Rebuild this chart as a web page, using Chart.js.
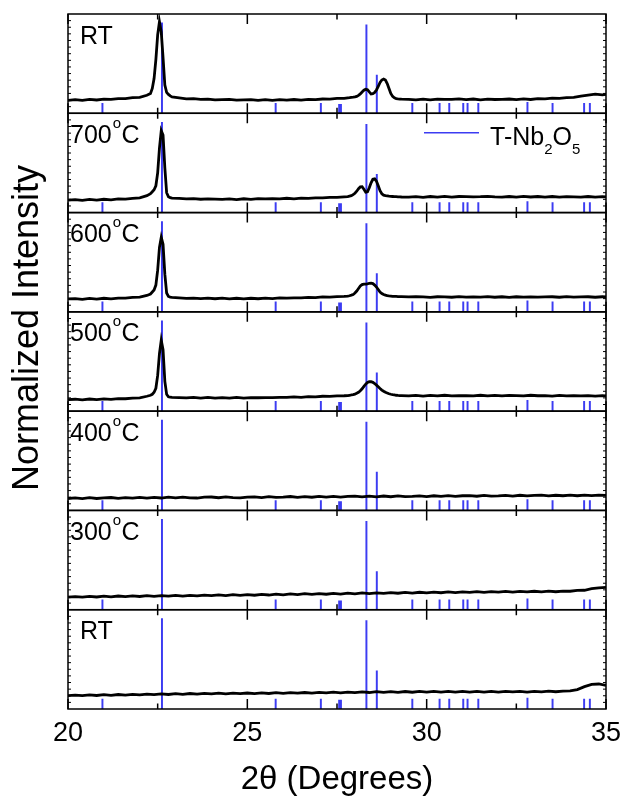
<!DOCTYPE html>
<html>
<head>
<meta charset="utf-8">
<script src="https://cdn.jsdelivr.net/npm/chart.js@4.4.1/dist/chart.umd.min.js"></script>
<style>
  html, body { margin: 0; padding: 0; background: #fff; }
  #wrap { width: 624px; height: 802px; position: relative; }
</style>
</head>
<body>
<div id="wrap"><canvas id="xrd" width="624" height="802"></canvas></div>
<script>
// ─── DATA ─────────────────────────────────────────────────────────────────────
// panel labels, top to bottom
const PANEL_LABELS = ['RT', '700°C', '600°C', '500°C', '400°C', '300°C', 'RT'];

// 2θ sample positions (dense around the two reflections)
const X_PEAK = [
  20.0, 20.2, 20.4, 20.6, 20.8, 21.0, 21.2, 21.4, 21.6, 21.8, 22.0, 22.2,
  22.30, 22.35, 22.40, 22.45, 22.50, 22.55, 22.60, 22.65, 22.70, 22.75, 22.80, 22.85, 22.90,
  23.1, 23.3, 23.5, 23.7, 23.9, 24.1, 24.3, 24.5, 24.7, 24.9, 25.1, 25.3, 25.5, 25.7, 25.9,
  26.1, 26.3, 26.5, 26.7, 26.9, 27.1, 27.3, 27.5, 27.7,
  27.80, 27.85, 27.90, 27.95, 28.00, 28.05, 28.10, 28.15, 28.20, 28.25, 28.30, 28.35, 28.40,
  28.45, 28.50, 28.55, 28.60, 28.65, 28.70, 28.75, 28.80, 28.85, 28.90, 28.95, 29.00, 29.05,
  29.10, 29.15, 29.20, 29.25, 29.30,
  29.5, 29.7, 29.9, 30.1, 30.3, 30.5, 30.7, 30.9, 31.1, 31.3, 31.5, 31.7, 31.9, 32.1, 32.3,
  32.5, 32.7, 32.9, 33.1, 33.3, 33.5, 33.7, 33.9, 34.1, 34.3, 34.5, 34.7, 34.9, 35.0
];

// 2θ sample positions for the amorphous patterns
const X_FLAT = [
  20.0, 20.2, 20.4, 20.6, 20.8, 21.0, 21.2, 21.4, 21.6, 21.8,
  22.0, 22.2, 22.4, 22.6, 22.8, 23.0, 23.2, 23.4, 23.6, 23.8,
  24.0, 24.2, 24.4, 24.6, 24.8, 25.0, 25.2, 25.4, 25.6, 25.8,
  26.0, 26.2, 26.4, 26.6, 26.8, 27.0, 27.2, 27.4, 27.6, 27.8,
  28.0, 28.2, 28.4, 28.6, 28.8, 29.0, 29.2, 29.4, 29.6, 29.8,
  30.0, 30.2, 30.4, 30.6, 30.8, 31.0, 31.2, 31.4, 31.6, 31.8,
  32.0, 32.2, 32.4, 32.6, 32.8, 33.0, 33.2, 33.4, 33.6, 33.8,
  34.0, 34.2, 34.4, 34.6, 34.8, 35.0
];

// normalized intensity (each panel spans 0..1)
const RT_TOP = [
  0.130, 0.137, 0.130, 0.140, 0.134, 0.142, 0.140, 0.147, 0.148, 0.157, 0.160, 0.182,
  0.200, 0.250, 0.350, 0.540, 0.790, 0.922, 0.820, 0.560, 0.285, 0.210, 0.190, 0.175, 0.165,
  0.155, 0.146, 0.147, 0.140, 0.142, 0.136, 0.138, 0.141, 0.133, 0.135, 0.138, 0.130, 0.137, 0.131, 0.138,
  0.132, 0.139, 0.133, 0.140, 0.138, 0.144, 0.143, 0.150, 0.150,
  0.155, 0.157, 0.160, 0.162, 0.165, 0.170, 0.180, 0.195, 0.215, 0.232, 0.242, 0.238, 0.215,
  0.195, 0.198, 0.210, 0.235, 0.270, 0.310, 0.335, 0.345, 0.335, 0.300, 0.250, 0.200, 0.170,
  0.155, 0.148, 0.145, 0.143, 0.142,
  0.141, 0.136, 0.142, 0.135, 0.142, 0.140, 0.141, 0.145, 0.138, 0.144, 0.136, 0.142, 0.139, 0.141, 0.144,
  0.138, 0.145, 0.139, 0.147, 0.146, 0.152, 0.150, 0.157, 0.160, 0.174, 0.183, 0.192, 0.186, 0.190
];

const T700 = [
  0.125, 0.130, 0.122, 0.132, 0.125, 0.134, 0.128, 0.137, 0.136, 0.144, 0.148, 0.170,
  0.190, 0.210, 0.230, 0.270, 0.400, 0.650, 0.825, 0.780, 0.450, 0.200, 0.160, 0.150, 0.145,
  0.142, 0.138, 0.140, 0.134, 0.137, 0.136, 0.132, 0.138, 0.131, 0.139, 0.133, 0.140, 0.138, 0.139, 0.138,
  0.144, 0.138, 0.145, 0.143, 0.149, 0.148, 0.154, 0.153, 0.158,
  0.160, 0.165, 0.170, 0.180, 0.195, 0.215, 0.240, 0.258, 0.260, 0.235, 0.205, 0.210, 0.250,
  0.300, 0.335, 0.340, 0.315, 0.270, 0.220, 0.190, 0.175, 0.170, 0.168, 0.165, 0.163, 0.162,
  0.160, 0.160, 0.158, 0.158, 0.157,
  0.155, 0.160, 0.153, 0.162, 0.155, 0.164, 0.156, 0.162, 0.161, 0.158, 0.160, 0.164, 0.158, 0.155, 0.162,
  0.156, 0.163, 0.157, 0.162, 0.156, 0.162, 0.155, 0.161, 0.158, 0.156, 0.162, 0.155, 0.161, 0.158
];

const T600 = [
  0.130, 0.134, 0.126, 0.136, 0.128, 0.137, 0.131, 0.139, 0.138, 0.145, 0.148, 0.165,
  0.180, 0.200, 0.220, 0.270, 0.420, 0.650, 0.750, 0.680, 0.380, 0.190, 0.155, 0.148, 0.145,
  0.140, 0.136, 0.138, 0.133, 0.139, 0.132, 0.138, 0.131, 0.137, 0.130, 0.137, 0.132, 0.139, 0.133, 0.140,
  0.138, 0.141, 0.140, 0.145, 0.143, 0.150, 0.148, 0.154, 0.155,
  0.158, 0.162, 0.168, 0.175, 0.190, 0.210, 0.235, 0.260, 0.275, 0.280, 0.280, 0.282, 0.288,
  0.290, 0.285, 0.270, 0.250, 0.225, 0.200, 0.185, 0.175, 0.168, 0.163, 0.160, 0.158, 0.156,
  0.155, 0.155, 0.154, 0.153, 0.153,
  0.150, 0.152, 0.150, 0.146, 0.152, 0.150, 0.147, 0.153, 0.148, 0.150, 0.148, 0.154, 0.147, 0.152, 0.146,
  0.152, 0.149, 0.151, 0.148, 0.150, 0.152, 0.147, 0.153, 0.148, 0.150, 0.152, 0.147, 0.152, 0.150
];

const T500 = [
  0.115, 0.120, 0.114, 0.122, 0.116, 0.124, 0.118, 0.126, 0.125, 0.132, 0.134, 0.150,
  0.160, 0.170, 0.190, 0.230, 0.360, 0.580, 0.714, 0.620, 0.300, 0.170, 0.145, 0.140, 0.138,
  0.137, 0.133, 0.138, 0.132, 0.138, 0.131, 0.137, 0.132, 0.138, 0.131, 0.137, 0.135, 0.137, 0.136, 0.139,
  0.138, 0.144, 0.139, 0.146, 0.144, 0.150, 0.148, 0.154, 0.155,
  0.157, 0.160, 0.163, 0.167, 0.172, 0.180, 0.190, 0.205, 0.225, 0.250, 0.272, 0.288, 0.296,
  0.297, 0.290, 0.278, 0.262, 0.245, 0.228, 0.212, 0.200, 0.190, 0.182, 0.175, 0.170, 0.166,
  0.163, 0.160, 0.158, 0.157, 0.156,
  0.153, 0.158, 0.152, 0.159, 0.153, 0.160, 0.154, 0.157, 0.155, 0.153, 0.160, 0.154, 0.159, 0.153, 0.159,
  0.156, 0.154, 0.160, 0.155, 0.157, 0.152, 0.158, 0.153, 0.155, 0.153, 0.156, 0.151, 0.157, 0.154
];

const T400 = [
  0.120, 0.126, 0.119, 0.128, 0.120, 0.127, 0.130, 0.121, 0.129, 0.123,
  0.131, 0.124, 0.132, 0.125, 0.133, 0.126, 0.134, 0.127, 0.125, 0.133,
  0.135, 0.128, 0.136, 0.129, 0.127, 0.135, 0.137, 0.130, 0.138, 0.131,
  0.133, 0.140, 0.132, 0.139, 0.133, 0.141, 0.134, 0.142, 0.135, 0.141,
  0.143, 0.136, 0.144, 0.137, 0.145, 0.138, 0.146, 0.139, 0.141, 0.147,
  0.140, 0.148, 0.141, 0.149, 0.142, 0.148, 0.150, 0.143, 0.151, 0.144,
  0.146, 0.152, 0.145, 0.153, 0.146, 0.152, 0.154, 0.147, 0.153, 0.148,
  0.155, 0.148, 0.154, 0.149, 0.155, 0.152
];

const T300 = [
  0.127, 0.132, 0.126, 0.135, 0.128, 0.136, 0.129, 0.138, 0.131, 0.139,
  0.133, 0.141, 0.134, 0.142, 0.136, 0.144, 0.137, 0.145, 0.139, 0.147,
  0.141, 0.149, 0.142, 0.151, 0.144, 0.152, 0.146, 0.154, 0.148, 0.157,
  0.150, 0.159, 0.152, 0.161, 0.154, 0.162, 0.156, 0.165, 0.158, 0.167,
  0.160, 0.169, 0.162, 0.170, 0.164, 0.172, 0.166, 0.174, 0.168, 0.176,
  0.170, 0.178, 0.171, 0.179, 0.173, 0.180, 0.174, 0.182, 0.175, 0.183,
  0.177, 0.184, 0.178, 0.185, 0.179, 0.186, 0.180, 0.187, 0.181, 0.188,
  0.186, 0.194, 0.196, 0.212, 0.220, 0.226
];

const RT_BOTTOM = [
  0.135, 0.140, 0.134, 0.142, 0.136, 0.144, 0.138, 0.146, 0.140, 0.148,
  0.142, 0.150, 0.144, 0.152, 0.146, 0.154, 0.148, 0.156, 0.150, 0.158,
  0.152, 0.159, 0.153, 0.160, 0.154, 0.161, 0.155, 0.162, 0.156, 0.164,
  0.158, 0.165, 0.159, 0.166, 0.160, 0.168, 0.162, 0.169, 0.163, 0.170,
  0.164, 0.172, 0.166, 0.174, 0.167, 0.175, 0.168, 0.176, 0.169, 0.177,
  0.170, 0.178, 0.171, 0.177, 0.170, 0.178, 0.171, 0.177, 0.170, 0.178,
  0.171, 0.177, 0.172, 0.178, 0.171, 0.177, 0.172, 0.179, 0.174, 0.180,
  0.182, 0.196, 0.225, 0.248, 0.252, 0.238
];

// T-Nb2O5 reference reflections (2θ) and relative stick heights
const STICK_POS    = [20.96, 22.62, 25.79, 27.05, 27.56, 27.61, 28.32, 28.61, 29.60,
                      30.36, 30.63, 31.02, 31.14, 31.44, 32.81, 33.51, 34.39, 34.55];
const STICK_HEIGHT = [0.10, 0.91, 0.10, 0.10, 0.09, 0.09, 0.89, 0.385, 0.10,
                      0.10, 0.10, 0.10, 0.10, 0.10, 0.11, 0.10, 0.10, 0.10];

const X_TICKS = [20, 22.5, 25, 27.5, 30, 32.5, 35];

const PANEL_DATA = [
  [X_PEAK, RT_TOP], [X_PEAK, T700], [X_PEAK, T600], [X_PEAK, T500],
  [X_FLAT, T400], [X_FLAT, T300], [X_FLAT, RT_BOTTOM],
];

// ─── CONFIG ───────────────────────────────────────────────────────────────────
const FONT = '"Liberation Sans", Arial, Helvetica, sans-serif';
const STICK_COLOR = '#3c3cf2';

const datasets = [];
const scales = {
  x: {
    type: 'linear', min: 20, max: 35, offset: false,
    grid: { display: false, drawTicks: false },
    border: { display: false },
    ticks: {
      stepSize: 5, padding: 8, color: '#000',
      font: { family: FONT, size: 27 },
    },
    title: {
      display: true, text: '2θ (Degrees)', color: '#000',
      font: { family: FONT, size: 33 }, padding: { top: 0, bottom: 2 },
    },
    afterFit: (s) => { s.height = 93; s.paddingLeft = 0; s.paddingRight = 0; },
  },
};

PANEL_DATA.forEach(([xs, ys], i) => {
  const id = 'p' + i;
  scales[id] = {
    type: 'linear', position: 'left', stack: 'panels', stackWeight: 1,
    weight: 10 - i, min: 0, max: 1,
    grid: { display: false, drawTicks: false },
    border: { display: false },
    ticks: { display: false },
    afterFit: (s) => { s.width = 0; },
  };
  datasets.push({
    type: 'bar', yAxisID: id, xAxisID: 'x',
    data: STICK_POS.map((p, k) => ({ x: p, y: [0, STICK_HEIGHT[k]] })),
    backgroundColor: STICK_COLOR, barThickness: 1.3, grouped: false,
    borderWidth: 0, order: 2,
  });
  datasets.push({
    type: 'line', yAxisID: id, xAxisID: 'x',
    data: xs.map((x, k) => ({ x, y: ys[k] })),
    borderColor: '#000', borderWidth: 2.8, pointRadius: 0, tension: 0,
    order: 1,
  });
});

// ─── DECORATIONS (frames, inward ticks, labels, legend) ──────────────────────
function drawDegreeLabel(ctx, text, x, y) {
  const parts = text.split('°');
  ctx.font = `25px ${FONT}`;
  ctx.fillText(parts[0], x, y);
  if (parts.length < 2) return;
  let cx = x + ctx.measureText(parts[0]).width + 1;
  ctx.font = `15px ${FONT}`;
  ctx.fillText('o', cx, y - 15);
  cx += ctx.measureText('o').width + 0.5;
  ctx.font = `25px ${FONT}`;
  ctx.fillText(parts[1], cx, y);
}

function drawLegend(ctx, top) {
  ctx.strokeStyle = STICK_COLOR;
  ctx.lineWidth = 1.5;
  ctx.beginPath();
  ctx.moveTo(424, top + 19.5);
  ctx.lineTo(479, top + 19.5);
  ctx.stroke();
  ctx.fillStyle = '#000';
  const base = top + 32;
  let cx = 490;
  const seq = [['T-Nb', 25, 0], ['2', 15, 9], ['O', 25, 0], ['5', 15, 9]];
  seq.forEach(([t, size, drop]) => {
    ctx.font = `${size}px ${FONT}`;
    ctx.fillText(t, cx, base + drop);
    cx += ctx.measureText(t).width;
  });
}

const decorPlugin = {
  id: 'decor',
  afterDatasetsDraw(chart) {
    const ctx = chart.ctx;
    const xs = chart.scales.x;
    const { left, right } = chart.chartArea;
    ctx.save();
    ctx.textBaseline = 'alphabetic';
    ctx.textAlign = 'left';

    PANEL_LABELS.forEach((lab, i) => {
      const ys = chart.scales['p' + i];
      const top = ys.getPixelForValue(1);
      const bot = ys.getPixelForValue(0);

      ctx.strokeStyle = '#000';
      ctx.lineWidth = 1.5;
      ctx.strokeRect(left, top, right - left, bot - top);

      ctx.beginPath();
      X_TICKS.forEach((v) => {
        const px = xs.getPixelForValue(v);
        const len = v % 5 === 0 ? 10 : 5.5;
        ctx.moveTo(px, top); ctx.lineTo(px, top + len);
        ctx.moveTo(px, bot); ctx.lineTo(px, bot - len);
      });
      ctx.stroke();

      ctx.lineWidth = 1;
      ctx.beginPath();
      for (let k = 1; k < 15; k++) {
        const py = ys.getPixelForValue(k / 15);
        ctx.moveTo(left, py); ctx.lineTo(left + 3, py);
        ctx.moveTo(right, py); ctx.lineTo(right - 3, py);
      }
      ctx.stroke();

      ctx.fillStyle = '#000';
      const lx = lab === 'RT' ? 80 : 70;
      drawDegreeLabel(ctx, lab, lx, top + 29.5);

      if (i === 1) drawLegend(ctx, top);
    });

    // y-axis title
    ctx.fillStyle = '#000';
    ctx.font = `36px ${FONT}`;
    ctx.textAlign = 'center';
    ctx.translate(38, 328);
    ctx.rotate(-Math.PI / 2);
    ctx.fillText('Normalized Intensity', 0, 0);
    ctx.restore();
  },
};

new Chart(document.getElementById('xrd'), {
  type: 'line',
  data: { datasets },
  options: {
    responsive: false,
    devicePixelRatio: 1,
    animation: false,
    layout: { padding: { left: 68, right: 18, top: 14, bottom: 0 } },
    plugins: { legend: { display: false }, tooltip: { enabled: false } },
    scales,
  },
  plugins: [decorPlugin],
});
</script>
</body>
</html>
